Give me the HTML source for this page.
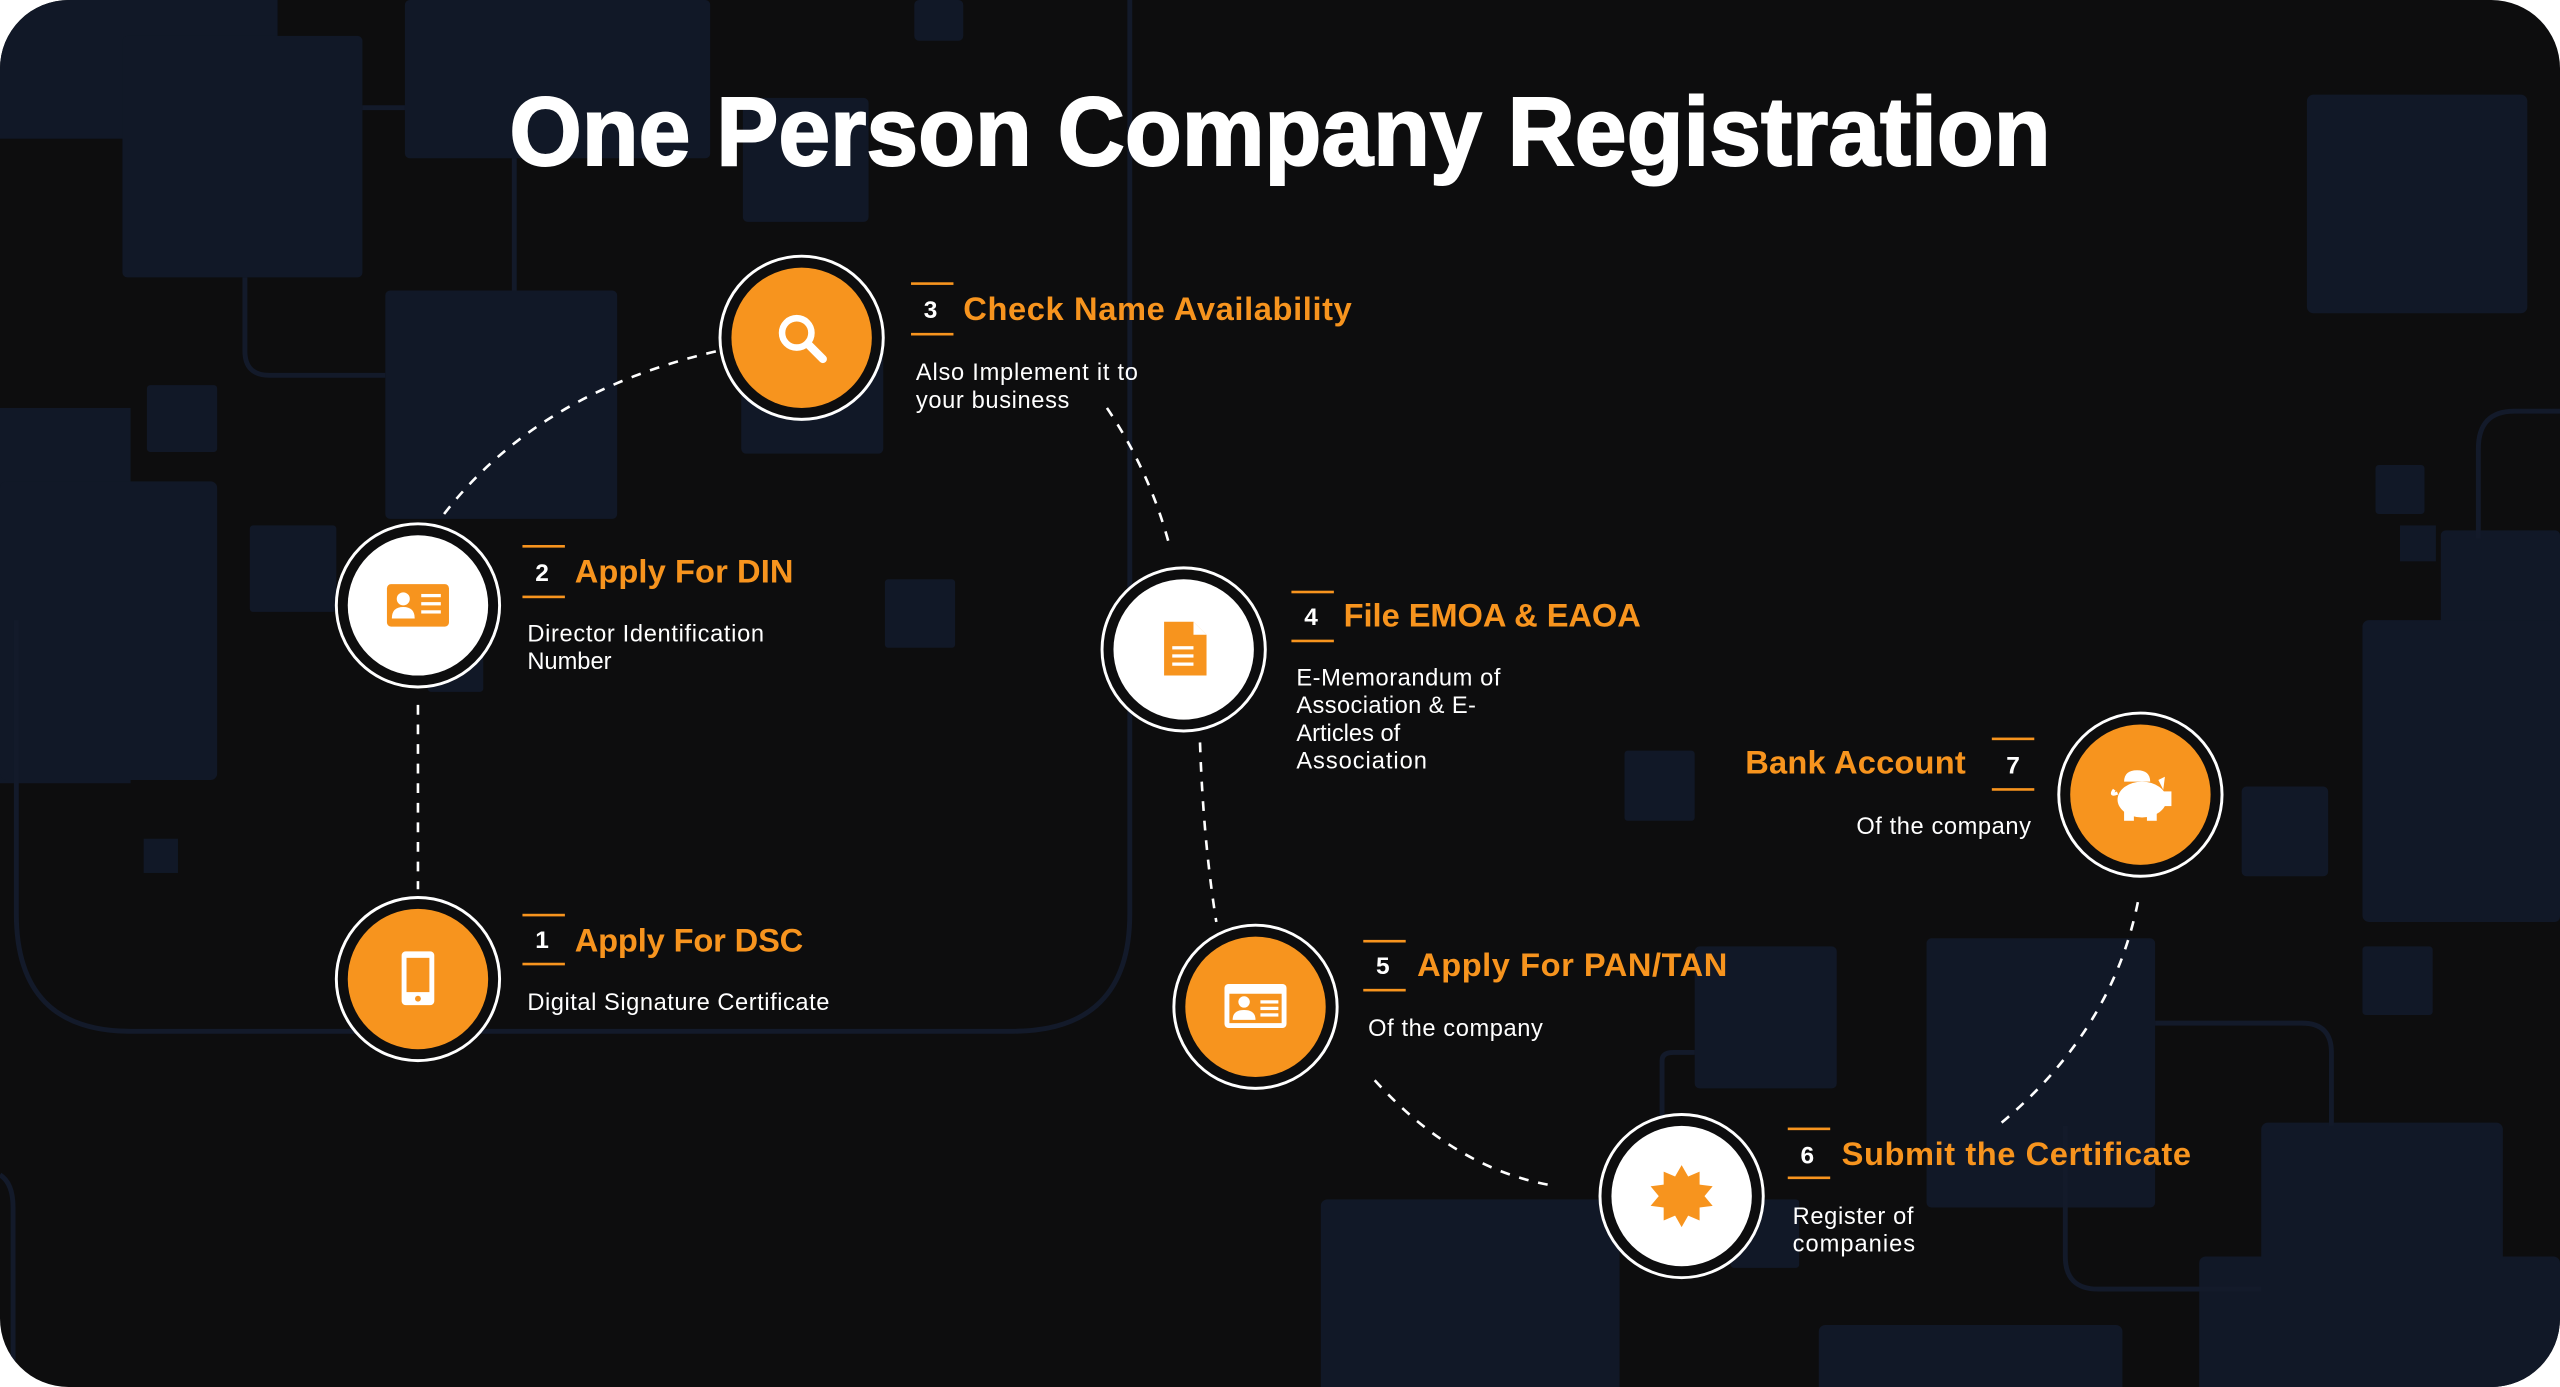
<!DOCTYPE html>
<html><head><meta charset="utf-8"><style>
html,body{margin:0;padding:0;background:#fff;width:2560px;height:1387px;overflow:hidden}
svg{display:block}
text{font-family:"Liberation Sans",sans-serif}
</style></head><body>
<svg width="2560" height="1387" viewBox="0 0 1568 850" preserveAspectRatio="none" xmlns="http://www.w3.org/2000/svg">
<defs><clipPath id="c"><rect x="0" y="0" width="1568" height="850" rx="42"/></clipPath></defs>
<g clip-path="url(#c)">
<rect width="1568" height="850" fill="#0d0d0e"/>
<g fill="#111827">
<rect x="0" y="0" width="170" height="85"/>
<rect x="75" y="22" width="147" height="148" rx="3"/>
<rect x="248" y="0" width="187" height="97" rx="3"/>
<rect x="455" y="60" width="77" height="76" rx="3"/>
<rect x="560" y="0" width="30" height="25" rx="3"/>
<rect x="236" y="178" width="142" height="140" rx="3"/>
<rect x="90" y="236" width="43" height="41" rx="2"/>
<rect x="0" y="250" width="80" height="230"/>
<rect x="0" y="295" width="133" height="183" rx="4"/>
<rect x="153" y="322" width="53" height="53" rx="2"/>
<rect x="542" y="355" width="43" height="42" rx="2"/>
<rect x="454" y="210" width="87" height="68" rx="3"/>
<rect x="262" y="390" width="34" height="34" rx="2"/>
<rect x="88" y="514" width="21" height="21"/>
<rect x="1413" y="58" width="135" height="134" rx="4"/>
<rect x="1455" y="285" width="30" height="30" rx="2"/>
<rect x="1470" y="322" width="22" height="22"/>
<rect x="1495" y="325" width="73" height="240" rx="3"/>
<rect x="1447" y="380" width="121" height="185" rx="4"/>
<rect x="995" y="460" width="43" height="43" rx="2"/>
<rect x="1373" y="482" width="53" height="55" rx="3"/>
<rect x="1447" y="580" width="43" height="42" rx="2"/>
<rect x="1038" y="580" width="87" height="87" rx="3"/>
<rect x="1180" y="575" width="140" height="165" rx="3"/>
<rect x="1385" y="688" width="148" height="170" rx="4"/>
<rect x="1347" y="770" width="221" height="90" rx="4"/>
<rect x="809" y="735" width="183" height="120" rx="4"/>
<rect x="1114" y="812" width="186" height="50" rx="4"/>
<rect x="1060" y="735" width="42" height="42" rx="2"/>
</g>
<g fill="none" stroke="#131a2a" stroke-width="3">
<path d="M10 380 V560 Q10 632 80 632 H620 Q692 632 692 560 V0"/>
<path d="M150 170 V215 Q150 230 165 230 H236"/>
<path d="M315 97 V178"/>
<path d="M222 66 H248"/>
<path d="M1518 330 V275 Q1518 252 1540 252 H1568"/>
<path d="M1320 627 H1410 Q1428 627 1428 645 V690"/>
<path d="M1265 690 V770 Q1265 790 1285 790 H1385"/>
<path d="M1018 700 V650 Q1018 645 1025 645 H1038"/>
<path d="M0 720 Q8 725 8 740 V850"/>
</g>

<text x="784" y="101" text-anchor="middle" font-size="60" font-weight="bold" fill="#fff" stroke="#fff" stroke-width="1.2" textLength="944" lengthAdjust="spacingAndGlyphs">One Person Company Registration</text>

<g fill="none" stroke="#fff" stroke-width="1.6" stroke-dasharray="6 6">
<path d="M256 432 V545"/>
<path d="M272 315 Q330 240 440 215"/>
<path d="M678 250 Q705 290 717 337"/>
<path d="M735 455 Q737 515 745 565"/>
<path d="M842 662 Q890 715 948 726"/>
<path d="M1226 688 Q1295 630 1310 550"/>
</g>

<g stroke="#fff" stroke-width="1.8" fill="#0d0d0e">
<circle cx="256" cy="600" r="50"/>
<circle cx="256" cy="371" r="50"/>
<circle cx="491" cy="207" r="50"/>
<circle cx="725" cy="398" r="50"/>
<circle cx="769" cy="617" r="50"/>
<circle cx="1030" cy="733" r="50"/>
<circle cx="1311" cy="487" r="50"/>
</g>
<circle cx="256" cy="600" r="43" fill="#f7941e"/>
<circle cx="256" cy="371" r="43" fill="#fff"/>
<circle cx="491" cy="207" r="43" fill="#f7941e"/>
<circle cx="725" cy="398" r="43" fill="#fff"/>
<circle cx="769" cy="617" r="43" fill="#f7941e"/>
<circle cx="1030" cy="733" r="43" fill="#fff"/>
<circle cx="1311" cy="487" r="43" fill="#f7941e"/>

<rect x="246" y="583" width="20" height="33" rx="2.5" fill="#fff"/>
<rect x="249" y="587" width="14" height="21" fill="#f7941e"/>
<circle cx="256" cy="612" r="1.8" fill="#f7941e"/>

<rect x="237" y="358" width="38" height="26" rx="2.5" fill="#f7941e"/>
<circle cx="247" cy="367" r="4" fill="#fff"/>
<path d="M240 379 Q240 372 247 372 Q254 372 254 379 Z" fill="#fff"/>
<rect x="258" y="364" width="12" height="2" fill="#fff"/><rect x="258" y="369" width="12" height="2" fill="#fff"/><rect x="258" y="374" width="12" height="2" fill="#fff"/>

<circle cx="488" cy="204" r="9" fill="none" stroke="#fff" stroke-width="4"/>
<path d="M495 211 L504 220" stroke="#fff" stroke-width="5" stroke-linecap="round"/>

<path d="M713 381 H731 L739 389 V414 H713 Z" fill="#f7941e"/>
<path d="M731 381 V389 H739" fill="#fff"/>
<rect x="718" y="396" width="13" height="2" fill="#fff"/><rect x="718" y="401" width="13" height="2" fill="#fff"/><rect x="718" y="406" width="13" height="2" fill="#fff"/>

<rect x="750" y="603" width="38" height="27" rx="2.5" fill="#fff"/>
<rect x="753" y="609" width="32" height="18" fill="#f7941e"/>
<circle cx="762" cy="614" r="3.5" fill="#fff"/>
<path d="M755 625 Q755 619 762 619 Q769 619 769 625 Z" fill="#fff"/>
<rect x="772" y="613" width="11" height="2" fill="#fff"/><rect x="772" y="617" width="11" height="2" fill="#fff"/><rect x="772" y="621" width="11" height="2" fill="#fff"/>

<polygon fill="#f7941e" points="1030,714 1034,721 1041,718 1041,726 1049,727 1044,733 1049,739 1041,740 1041,748 1034,745 1030,752 1026,745 1019,748 1019,740 1011,739 1016,733 1011,727 1019,726 1019,718 1026,721"/>

<path d="M1301 479 Q1301 472 1309 472 Q1317 472 1317 479 Z" fill="#fff"/>
<ellipse cx="1312" cy="490" rx="15" ry="11" fill="#fff"/>
<path d="M1322 478 L1326 476 L1325 484 Z" fill="#fff"/>
<rect x="1323" y="485" width="7" height="9" fill="#fff"/>
<rect x="1301" y="495" width="6" height="8" fill="#fff"/><rect x="1315" y="495" width="6" height="8" fill="#fff"/>
<path d="M1297 486 Q1292 488 1295 484" stroke="#fff" stroke-width="2" fill="none"/>

<g fill="#f7941e">
<rect x="320" y="560" width="26" height="1.6"/><rect x="320" y="590" width="26" height="1.6"/>
<rect x="320" y="334" width="26" height="1.6"/><rect x="320" y="365" width="26" height="1.6"/>
<rect x="558" y="173" width="26" height="1.6"/><rect x="558" y="204" width="26" height="1.6"/>
<rect x="791" y="362" width="26" height="1.6"/><rect x="791" y="392" width="26" height="1.6"/>
<rect x="835" y="576" width="26" height="1.6"/><rect x="835" y="606" width="26" height="1.6"/>
<rect x="1095" y="691" width="26" height="1.6"/><rect x="1095" y="721" width="26" height="1.6"/>
<rect x="1220" y="452" width="26" height="1.6"/><rect x="1220" y="483" width="26" height="1.6"/>
</g>
<g fill="#fff" font-weight="bold" font-size="15" text-anchor="middle">
<text x="332" y="581">1</text><text x="332" y="356">2</text><text x="570" y="195">3</text>
<text x="803" y="383">4</text><text x="847" y="597">5</text><text x="1107" y="713">6</text><text x="1233" y="474">7</text>
</g>
<g fill="#f7941e" font-weight="bold" font-size="20">
<text x="352" y="583" textLength="140">Apply For DSC</text>
<text x="352" y="357" textLength="134">Apply For DIN</text>
<text x="590" y="196" textLength="238">Check Name Availability</text>
<text x="823" y="384" textLength="182">File EMOA &amp; EAOA</text>
<text x="868" y="598" textLength="190">Apply For PAN/TAN</text>
<text x="1128" y="714" textLength="214">Submit the Certificate</text>
<text x="1069" y="474" textLength="135">Bank Account</text>
</g>
<g fill="#fff" font-size="14.5">
<text x="323" y="619" textLength="185">Digital Signature Certificate</text>
<text x="323" y="393" textLength="145">Director Identification</text><text x="323" y="410">Number</text>
<text x="561" y="233" textLength="136">Also Implement it to</text><text x="561" y="250" textLength="94">your business</text>
<text x="794" y="420" textLength="125">E-Memorandum of</text><text x="794" y="437" textLength="110">Association &amp; E-</text><text x="794" y="454">Articles of</text><text x="794" y="471" textLength="80">Association</text>
<text x="838" y="635" textLength="107">Of the company</text>
<text x="1098" y="750" textLength="74">Register of</text><text x="1098" y="767" textLength="75">companies</text>
<text x="1137" y="511" textLength="107">Of the company</text>
</g>
</g>
</svg>
</body></html>
